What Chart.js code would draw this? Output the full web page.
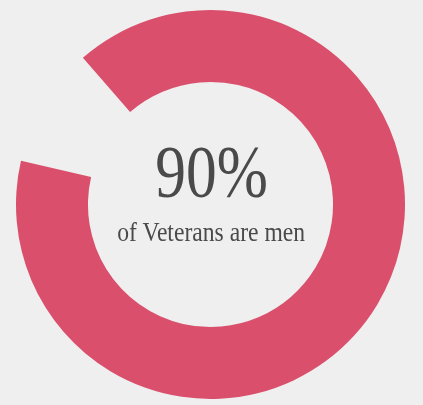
<!DOCTYPE html>
<html>
<head>
<meta charset="utf-8">
<script src="https://cdn.jsdelivr.net/npm/chart.js@4"></script>
<style>
  html, body { margin: 0; padding: 0; background: #efefef; }
  #wrap { position: relative; width: 423px; height: 405px; }
  #c { position: absolute; left: 0; top: 0; }
  .t { position: absolute; left: 0; width: 423px; text-align: center; color: #4a4a4a;
       font-family: "Liberation Serif", "DejaVu Serif", serif; white-space: nowrap; }
  #big { top: 132px; font-size: 74px; line-height: 80px; transform: scaleX(0.83); transform-origin: 212px 0; }
  #small { top: 217px; font-size: 27px; line-height: 30px; transform: scaleX(0.875); transform-origin: 209px 0; }
</style>
</head>
<body>
<div id="wrap">
  <canvas id="c" width="423" height="405"></canvas>
  <div class="t" id="big">90%</div>
  <div class="t" id="small">of Veterans are men</div>
</div>
<script>
const categories = ["Men", "Women"];
const values = [90, 10];
const colors = ["#d94f6c", "rgba(0,0,0,0)"];

new Chart(document.getElementById("c"), {
  type: "doughnut",
  data: {
    labels: categories,
    datasets: [{ data: values, backgroundColor: colors, borderWidth: 0 }]
  },
  options: {
    responsive: false,
    animation: false,
    rotation: -41,
    cutout: "63%",
    layout: { padding: { left: 16, right: 18, top: 10, bottom: 6 } },
    plugins: { legend: { display: false }, tooltip: { enabled: false } }
  }
});
</script>
</body>
</html>
